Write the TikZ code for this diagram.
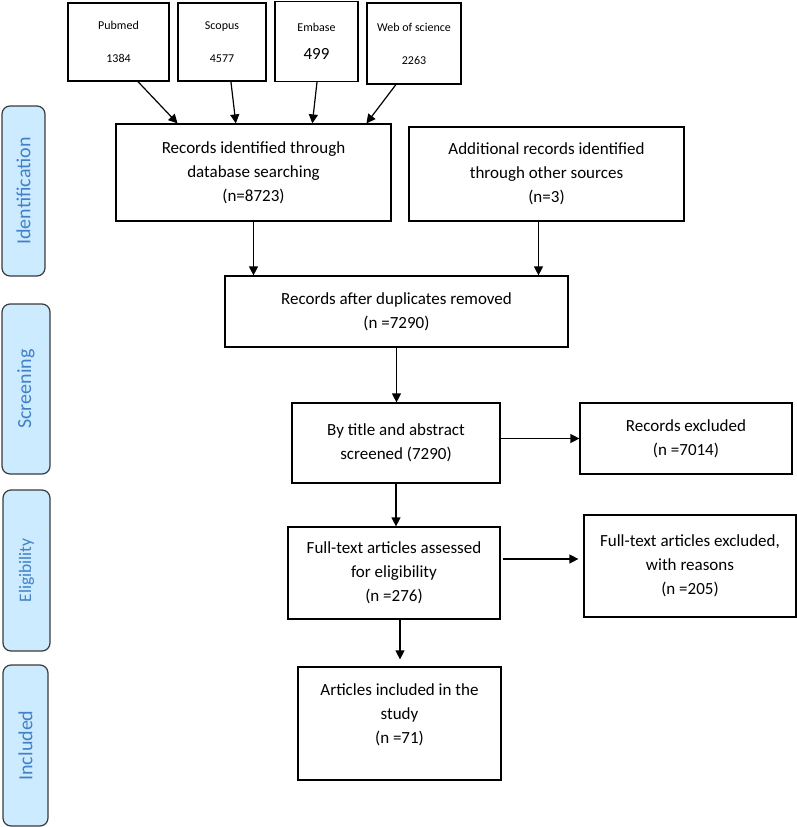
\documentclass[tikz,border=0pt]{standalone}
\usepackage{fontspec}
\setmainfont{Carlito}
\usetikzlibrary{arrows.meta,calc}
\definecolor{lblfill}{HTML}{CCEBFF}
\definecolor{lbltext}{HTML}{4280C8}
\definecolor{lbldraw}{HTML}{3A3A3A}
\begin{document}
\begin{tikzpicture}[x=1pt,y=-1pt,
  box/.style={draw=black,line width=1.2pt,inner sep=0pt,align=center,
    font=\fontsize{17}{24}\selectfont},
  srcbox/.style={draw=black,line width=1.2pt,inner sep=0pt,align=center,
    font=\fontsize{12}{14}\selectfont},
  phase/.style={draw=lbldraw,line width=1.2pt,fill=lblfill,rounded corners=8pt,
    inner sep=0pt,rotate=90,text=lbltext,font=\fontsize{20}{24}\selectfont},
  arr/.style={line width=1.2pt,-{Triangle[length=9pt,width=9pt]}}]
\useasboundingbox (0,0) rectangle (797,827);
% side labels
\node[phase,minimum width=170,minimum height=43] (idl) at (23.5,191) {Identification};
\node[phase,minimum width=170,minimum height=48] (scl) at (26,389) {Screening};
\node[phase,minimum width=161,minimum height=47,font=\fontsize{17.5}{20}\selectfont] (ell) at (26.5,570.5) {Eligibility};
\node[phase,minimum width=161,minimum height=45] (inl) at (25.5,745.5) {Included};
% source boxes
\node[srcbox,minimum width=101,minimum height=78] (pub) at (118.5,42) {Pubmed\\[19pt]1384};
\node[srcbox,minimum width=88,minimum height=78] (sco) at (222,42) {Scopus\\[19pt]4577};
\node[srcbox,minimum width=83,minimum height=80] (emb) at (316.5,41.5) {Embase\\[14pt]{\fontsize{17}{20}\selectfont 499}};
\node[srcbox,minimum width=94,minimum height=81] (wos) at (414,43.5) {Web of science\\[19pt]2263};
% main boxes
\node[box,minimum width=275,minimum height=97] (rid) at (253.5,172.5) {Records identified through\\database searching\\(n=8723)};
\node[box,minimum width=275,minimum height=94] (add) at (546.5,174) {Additional records identified\\through other sources\\(n=3)};
\node[box,minimum width=343,minimum height=71] (dup) at (396.5,311.5) {Records after duplicates removed\\(n =7290)};
\node[box,minimum width=208,minimum height=80] (tit) at (396,443) {By title and abstract\\screened (7290)};
\node[box,minimum width=212,minimum height=71] (rex) at (686,438.5) {Records excluded\\(n =7014)};
\node[box,minimum width=212,minimum height=92] (ft) at (394,573) {Full-text articles assessed\\for eligibility\\(n =276)};
\node[box,minimum width=212,minimum height=102] (fex) at (690,566) {Full-text articles excluded,\\with reasons\\(n =205)};
\node[box,minimum width=203,minimum height=113] (inc) at (399.5,723.5) {};
\node[box,draw=none] (inct) at ($(inc.center)+(0,-8.5)$) {Articles included in the\\study\\(n =71)};
% connectors
\draw[arr] ($(pub.south west)!0.69!(pub.south east)$) -- ($(rid.north west)!0.225!(rid.north east)$);
\draw[arr] ($(sco.south west)!0.60!(sco.south east)$) -- ($(rid.north west)!0.436!(rid.north east)$);
\draw[arr] ($(emb.south west)!0.506!(emb.south east)$) -- ($(rid.north west)!0.713!(rid.north east)$);
\draw[arr] ($(wos.south west)!0.31!(wos.south east)$) -- ($(rid.north west)!0.909!(rid.north east)$);
\draw[arr] (rid.south) -- (rid.south |- dup.north);
\draw[arr] ($(add.south)+(-8,0)$) -- ($(add.south |- dup.north)+(-8,0)$);
\draw[arr] (dup.south) -- (dup.south |- tit.north);
\draw[arr] (rex.west -| tit.east) -- (rex.west);
\draw[arr] (tit.south) -- (tit.south |- ft.north);
\draw[arr] ($(ft.east)+(2,-14)$) -- ($(fex.west |- ft.east)+(-5,-14)$);
\draw[arr] ($(ft.south)+(6,0)$) -- ($(inc.north)+(0.5,-7)$);
\end{tikzpicture}
\end{document}
